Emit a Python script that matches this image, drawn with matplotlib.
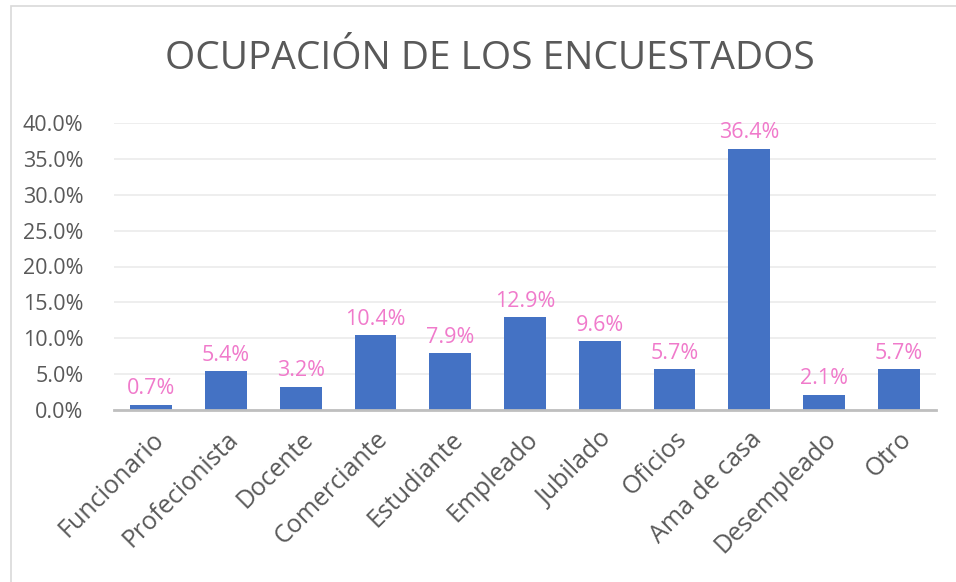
import matplotlib.pyplot as plt
from matplotlib.ticker import FuncFormatter
from matplotlib.patches import Rectangle

categorias = ["Funcionario", "Profecionista", "Docente", "Comerciante", "Estudiante",
              "Empleado", "Jubilado", "Oficios", "Ama de casa", "Desempleado", "Otro"]
porcentajes = [0.7, 5.4, 3.2, 10.4, 7.9, 12.9, 9.6, 5.7, 36.4, 2.1, 5.7]
ticks_y = [0, 5, 10, 15, 20, 25, 30, 35, 40]

plt.rcParams["font.family"] = ["Open Sans", "DejaVu Sans"]

fig = plt.figure(figsize=(9.56, 5.82), dpi=100)
ax = fig.add_axes([114 / 956, 1 - 410 / 582, 822 / 956, 287 / 582])

x = range(len(categorias))
ax.bar(x, porcentajes, width=0.56, color="#4472C4", zorder=3)

for xi, v in zip(x, porcentajes):
    ax.annotate(f"{v:.1f}%", (xi, v), xytext=(0, 4), textcoords="offset points",
                ha="center", va="bottom", fontsize=15.5, color="#F07ACB")

ax.set_xlim(-0.5, len(categorias) - 0.5)
ax.set_ylim(0, 40)
ax.set_yticks(ticks_y)
ax.yaxis.set_major_formatter(FuncFormatter(lambda v, p: f"{v:.1f}%"))
ax.grid(axis="y", color="#EBEBEB", linewidth=1.2, zorder=0)
ax.set_xticks(list(x))
ax.set_xticklabels(categorias, rotation=45, ha="right", rotation_mode="anchor", fontsize=18)
ax.tick_params(axis="both", length=0, colors="#595959")
ax.tick_params(axis="y", pad=22, labelsize=15.5)
ax.tick_params(axis="x", pad=12)

for s in ["top", "right", "left"]:
    ax.spines[s].set_visible(False)
ax.spines["bottom"].set_color("#BFBFBF")
ax.spines["bottom"].set_linewidth(2)
ax.spines["bottom"].set_zorder(4)

fig.text(490 / 956, 1 - 59 / 582, "OCUPACIÓN DE LOS ENCUESTADOS", ha="center", va="center",
         fontsize=28, color="#595959")

# chart border
fig.patches.append(Rectangle((11 / 956, -0.01), 1.1, 1 - 6 / 582 + 0.01,
                             transform=fig.transFigure, fill=False,
                             edgecolor="#D9D9D9", linewidth=1.2))

fig.savefig("out.png", dpi=100)
